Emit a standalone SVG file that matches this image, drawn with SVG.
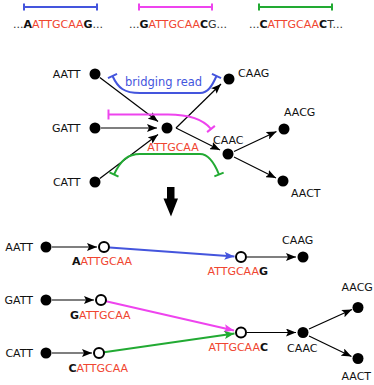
<svg xmlns="http://www.w3.org/2000/svg" width="374" height="385" viewBox="0 0 374 385">
<style>
text{font-family:"DejaVu Sans","Liberation Sans",sans-serif;font-size:11px;fill:#111}
.r{fill:#f04530}
.b{font-weight:bold;fill:#111}
.d{fill:#333}
.dot{fill:#000}
.open{fill:#fff;stroke:#000;stroke-width:2}
.e{stroke:#000;stroke-width:1.2;fill:none;marker-end:url(#ak)}
.cb{stroke:#4455dd;stroke-width:2;fill:none}
.cm{stroke:#ee44ee;stroke-width:2;fill:none}
.cg{stroke:#22aa33;stroke-width:2;fill:none}
</style>
<defs>
<marker id="ak" viewBox="0 0 10 8" refX="10" refY="4" markerWidth="10" markerHeight="8" markerUnits="userSpaceOnUse" orient="auto"><path d="M0,0 L10,4 L0,8 L2,4 Z" fill="#000"/></marker>
<marker id="ab" viewBox="0 0 10 8" refX="10" refY="4" markerWidth="10" markerHeight="8" markerUnits="userSpaceOnUse" orient="auto"><path d="M0,0 L10,4 L0,8 L2,4 Z" fill="#4455dd"/></marker>
<marker id="am" viewBox="0 0 10 8" refX="10" refY="4" markerWidth="10" markerHeight="8" markerUnits="userSpaceOnUse" orient="auto"><path d="M0,0 L10,4 L0,8 L2,4 Z" fill="#ee44ee"/></marker>
<marker id="ag" viewBox="0 0 10 8" refX="10" refY="4" markerWidth="10" markerHeight="8" markerUnits="userSpaceOnUse" orient="auto"><path d="M0,0 L10,4 L0,8 L2,4 Z" fill="#22aa33"/></marker>
<marker id="tb" viewBox="-2 -6 4 12" refX="0" refY="0" markerWidth="4" markerHeight="12" markerUnits="userSpaceOnUse" orient="auto" overflow="visible"><path d="M0,-5 V5" stroke="#4455dd" stroke-width="2"/></marker>
<marker id="tm" viewBox="-2 -6 4 12" refX="0" refY="0" markerWidth="4" markerHeight="12" markerUnits="userSpaceOnUse" orient="auto" overflow="visible"><path d="M0,-5 V5" stroke="#ee44ee" stroke-width="2"/></marker>
<marker id="tg" viewBox="-2 -6 4 12" refX="0" refY="0" markerWidth="4" markerHeight="12" markerUnits="userSpaceOnUse" orient="auto" overflow="visible"><path d="M0,-5 V5" stroke="#22aa33" stroke-width="2"/></marker>
</defs>

<!-- top reads -->
<g id="reads-top">
<path class="cb" d="M24,7 H97 M24,3.5 V10.5 M97,3.5 V10.5"/>
<path class="cm" d="M139,7 H212 M139,3.5 V10.5 M212,3.5 V10.5"/>
<path class="cg" d="M259,7 H332 M259,3.5 V10.5 M332,3.5 V10.5"/>
<text x="13" y="28"><tspan class="d">...</tspan><tspan class="b">A</tspan><tspan class="r">ATTGCAA</tspan><tspan class="b">G</tspan><tspan class="d">...</tspan></text>
<text x="129" y="28"><tspan class="d">...</tspan><tspan class="b">G</tspan><tspan class="r">ATTGCAA</tspan><tspan class="b">C</tspan><tspan class="d">G...</tspan></text>
<text x="249" y="28"><tspan class="d">...</tspan><tspan class="b">C</tspan><tspan class="r">ATTGCAA</tspan><tspan class="b">C</tspan><tspan class="d">T...</tspan></text>
</g>

<!-- middle graph connectors -->
<g id="connectors-middle">
<line class="e" x1="99.8" y1="77.6" x2="158" y2="121.5"/>
<line class="e" x1="101" y1="128" x2="157" y2="128"/>
<line class="e" x1="99.8" y1="178.4" x2="158" y2="134.5"/>
<line class="e" x1="176" y1="128" x2="221" y2="84"/>
<line class="e" x1="176" y1="128" x2="220" y2="150"/>
<line class="e" x1="234" y1="151.5" x2="276.5" y2="131.5"/>
<line class="e" x1="234" y1="157" x2="276" y2="178"/>
</g>
<g id="bridging-reads">
<path class="cb" d="M112.5,76 C118,88 124,93 140,93 L200,93 C208,93 212,86 216.5,76" marker-start="url(#tb)" marker-end="url(#tb)"/>
<text x="125" y="86" style="fill:#4455dd;font-size:11.5px">bridging read</text>
<path class="cm" d="M108.5,114.5 L168,114.5 C190,114.5 203,119 211,129" marker-start="url(#tm)" marker-end="url(#tm)"/>
<path class="cg" d="M114,174.5 C121,160 128,154 140,154 L200,154 C208,154 214,162 219,174.5" marker-start="url(#tg)" marker-end="url(#tg)"/>
</g>

<!-- middle nodes -->
<g id="m-AATT"><circle class="dot" cx="95" cy="74" r="5.5"/><text x="80.5" y="78" text-anchor="end">AATT</text></g>
<g id="m-GATT"><circle class="dot" cx="95" cy="128" r="5.5"/><text x="80.5" y="132" text-anchor="end">GATT</text></g>
<g id="m-CATT"><circle class="dot" cx="95" cy="182" r="5.5"/><text x="80.5" y="186" text-anchor="end">CATT</text></g>
<g id="m-ATTGCAA"><circle class="dot" cx="167" cy="128" r="5.5"/><text class="r" x="173" y="151" text-anchor="middle">ATTGCAA</text></g>
<g id="m-CAAG"><circle class="dot" cx="229" cy="79" r="5.5"/><text x="238" y="77">CAAG</text></g>
<g id="m-CAAC"><circle class="dot" cx="228" cy="154" r="5.5"/><text x="213" y="144">CAAC</text></g>
<g id="m-AACG"><circle class="dot" cx="284" cy="129" r="5.5"/><text x="284" y="116">AACG</text></g>
<g id="m-AACT"><circle class="dot" cx="283" cy="181" r="5.5"/><text x="291" y="197">AACT</text></g>

<!-- big arrow -->
<path id="big-arrow" d="M167,187 H174.5 V198.5 H178 L171,216.5 L163.5,198.5 H167 Z" fill="#000"/>

<!-- bottom connectors -->
<g id="connectors-bottom">
<line class="e" x1="52" y1="247" x2="97" y2="247"/>
<line class="e" x1="52" y1="300" x2="94" y2="300"/>
<line class="e" x1="52" y1="353" x2="92" y2="353"/>
<line stroke="#4455dd" stroke-width="2" x1="109.5" y1="247.4" x2="234.5" y2="256.6" marker-end="url(#ab)"/>
<line stroke="#ee44ee" stroke-width="2" x1="106" y1="301.2" x2="234" y2="330.5" marker-end="url(#am)"/>
<line stroke="#22aa33" stroke-width="2" x1="104" y1="352.2" x2="234.5" y2="333.5" marker-end="url(#ag)"/>
<line class="e" x1="247" y1="257" x2="296" y2="257"/>
<line class="e" x1="247" y1="332.5" x2="296" y2="332.5"/>
<line class="e" x1="309" y1="329" x2="352" y2="309.5"/>
<line class="e" x1="309" y1="336" x2="351.5" y2="356.5"/>
</g>

<!-- bottom nodes -->
<g id="b-AATT"><circle class="dot" cx="46" cy="247" r="5.5"/><text x="33" y="251" text-anchor="end">AATT</text></g>
<g id="b-GATT"><circle class="dot" cx="46" cy="300" r="5.5"/><text x="33" y="304" text-anchor="end">GATT</text></g>
<g id="b-CATT"><circle class="dot" cx="46" cy="353" r="5.5"/><text x="33" y="357" text-anchor="end">CATT</text></g>
<g id="b-AATTGCAA"><circle class="open" cx="104" cy="247" r="5"/><text x="72" y="264.5"><tspan class="b">A</tspan><tspan class="r">ATTGCAA</tspan></text></g>
<g id="b-GATTGCAA"><circle class="open" cx="101" cy="300" r="5"/><text x="70" y="318.5"><tspan class="b">G</tspan><tspan class="r">ATTGCAA</tspan></text></g>
<g id="b-CATTGCAA"><circle class="open" cx="99" cy="353" r="5"/><text x="68.5" y="371.5"><tspan class="b">C</tspan><tspan class="r">ATTGCAA</tspan></text></g>
<g id="b-ATTGCAAG"><circle class="open" cx="241" cy="257" r="5"/><text x="207.5" y="275"><tspan class="r">ATTGCAA</tspan><tspan class="b">G</tspan></text></g>
<g id="b-ATTGCAAC"><circle class="open" cx="241" cy="332.5" r="5"/><text x="208.5" y="351"><tspan class="r">ATTGCAA</tspan><tspan class="b">C</tspan></text></g>
<g id="b-CAAG"><circle class="dot" cx="303" cy="257" r="5.5"/><text x="282" y="243.5">CAAG</text></g>
<g id="b-CAAC"><circle class="dot" cx="303" cy="332.5" r="5.5"/><text x="287" y="351.5">CAAC</text></g>
<g id="b-AACG"><circle class="dot" cx="358" cy="307.5" r="5.5"/><text x="341.5" y="291">AACG</text></g>
<g id="b-AACT"><circle class="dot" cx="358" cy="358.5" r="5.5"/><text x="341.5" y="379.5">AACT</text></g>
</svg>
